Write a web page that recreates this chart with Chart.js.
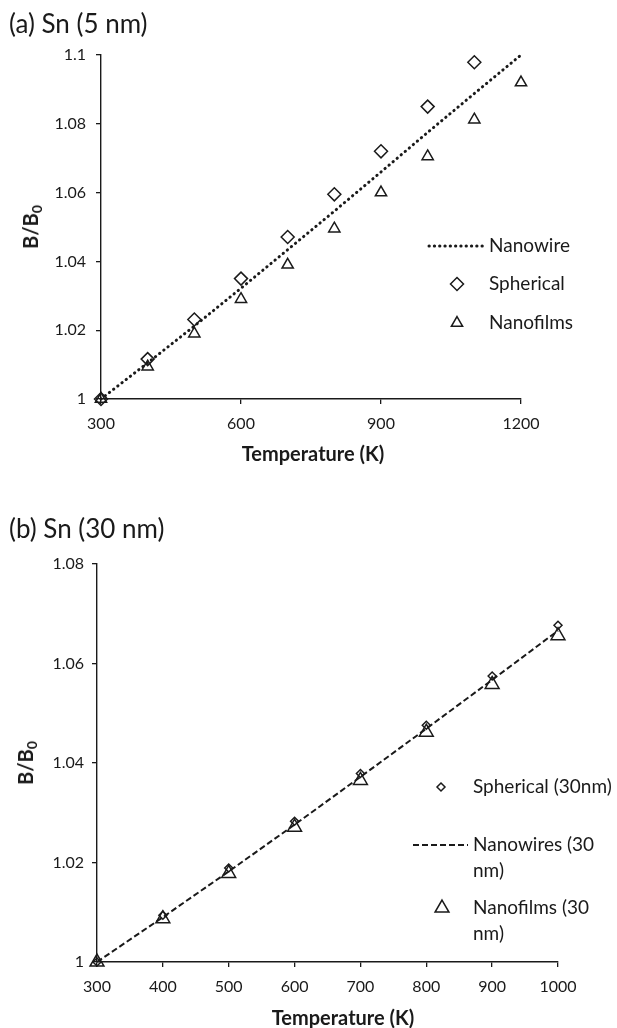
<!DOCTYPE html>
<html>
<head>
<meta charset="utf-8">
<script src="https://cdn.jsdelivr.net/npm/chart.js@4.4.1/dist/chart.umd.min.js"></script>
<style>
  body { margin: 0; background: #fff; font-family: Lato, sans-serif; color: #1a1a1a; }
  #page { position: relative; width: 617px; height: 1028px; overflow: hidden; }
  canvas { position: absolute; left: 0; }
  .txt { position: absolute; white-space: nowrap; transform: translate(-50%, -50%); }
  .panel { font-size: 26px; transform: translate(0, -50%); }
  .axt { font-weight: bold; font-size: 20px; }
  .rot { transform: translate(-50%, -50%) rotate(-90deg); }
  sub { font-size: 14px; vertical-align: -4px; line-height: 0; }
</style>
</head>
<body>
<div id="page">
  <canvas id="chartA" width="617" height="480" style="top:0"></canvas>
  <canvas id="chartB" width="617" height="548" style="top:480px"></canvas>
  <div class="txt panel" style="left:9px; top:23px">(a) Sn (5 nm)</div>
  <div class="txt panel" style="left:9px; top:528px">(b) Sn (30 nm)</div>
  <div class="txt axt" style="left:313px; top:453px">Temperature (K)</div>
  <div class="txt axt" style="left:343px; top:1017px">Temperature (K)</div>
  <div class="txt axt rot" style="left:30px; top:227px">B/B<sub>0</sub></div>
  <div class="txt axt rot" style="left:25px; top:763px">B/B<sub>0</sub></div>
</div>
<script>
// (a) Sn 5 nm
const tempA = [300, 400, 500, 600, 700, 800, 900, 1000, 1100, 1200];
const wireA = [1.0, 1.0105, 1.0212, 1.0322, 1.0434, 1.0546, 1.066, 1.0775, 1.0888, 1.1];
const tempSphA = [300, 400, 500, 600, 700, 800, 900, 1000, 1100];
const sphA = [1.0, 1.0116, 1.0231, 1.035, 1.0471, 1.0595, 1.072, 1.085, 1.0979];
const filmA = [1.0, 1.0094, 1.019, 1.029, 1.039, 1.0495, 1.060, 1.0705, 1.0812, 1.092];
const xTicksA = [300, 600, 900, 1200];
const yTicksA = [1, 1.02, 1.04, 1.06, 1.08, 1.1];

// (b) Sn 30 nm
const tempB = [300, 400, 500, 600, 700, 800, 900, 1000];
const sphB = [1.0, 1.0094, 1.0189, 1.0283, 1.0379, 1.0476, 1.0575, 1.0677];
const wireB = [1.0, 1.009, 1.0182, 1.0276, 1.0372, 1.0469, 1.0567, 1.0666];
const filmB = [1.0, 1.0087, 1.0178, 1.0271, 1.0365, 1.0462, 1.0558, 1.0656];
const xTicksB = [300, 400, 500, 600, 700, 800, 900, 1000];
const yTicksB = [1, 1.02, 1.04, 1.06, 1.08];

const INK = '#1a1a1a';
const pts = (xs, ys) => xs.map((x, i) => ({ x: x, y: ys[i] }));
const fmt = v => String(parseFloat(v.toFixed(3)));

function drawMark(ctx, kind, x, y, r, lw) {
  ctx.save();
  ctx.strokeStyle = INK;
  ctx.lineWidth = lw;
  ctx.beginPath();
  if (kind === 'diamond') {
    ctx.moveTo(x, y - r); ctx.lineTo(x + r, y); ctx.lineTo(x, y + r); ctx.lineTo(x - r, y);
  } else {
    const h = r * 1.5, w = r * Math.sqrt(3) / 2;
    ctx.moveTo(x, y - r); ctx.lineTo(x + w, y + h - r); ctx.lineTo(x - w, y + h - r);
  }
  ctx.closePath();
  ctx.stroke();
  ctx.restore();
}

// legend placed inside the plot like in the original figure
const panelLegend = {
  id: 'panelLegend',
  afterDraw(chart, args, opts) {
    const ctx = chart.ctx;
    ctx.save();
    ctx.font = '19px Lato, sans-serif';
    ctx.fillStyle = INK;
    ctx.textBaseline = 'middle';
    opts.items.forEach(it => {
      if (it.kind === 'line') {
        ctx.save();
        ctx.strokeStyle = INK;
        ctx.lineWidth = it.lw;
        ctx.lineCap = it.cap;
        ctx.setLineDash(it.dash);
        ctx.beginPath();
        ctx.moveTo(it.x0, it.y);
        ctx.lineTo(it.x1, it.y);
        ctx.stroke();
        ctx.restore();
      } else {
        drawMark(ctx, it.kind, it.mx, it.y, it.r, it.lw);
      }
      it.text.forEach((t, i) => ctx.fillText(t, it.tx, it.y + i * 26));
    });
    ctx.restore();
  }
};

function axisX(min, max, step, ticks, h) {
  return {
    type: 'linear', min: min, max: max,
    afterFit: s => { s.height = h; },
    afterBuildTicks: s => { s.ticks = ticks.map(v => ({ value: v })); },
    grid: { display: true, drawOnChartArea: false, drawTicks: true, tickLength: 5, color: INK, lineWidth: 1.3 },
    border: { display: true, color: INK, width: 1.4 },
    ticks: { stepSize: step, padding: 10, color: INK, font: { family: 'Lato', size: 16 }, maxRotation: 0, callback: fmt }
  };
}
function axisY(min, max, ticks, w, pad) {
  return {
    type: 'linear', min: min, max: max,
    afterFit: s => { s.width = w; },
    afterBuildTicks: s => { s.ticks = ticks.map(v => ({ value: v })); },
    grid: { display: true, drawOnChartArea: false, drawTicks: true, tickLength: 5, color: INK, lineWidth: 1.3 },
    border: { display: true, color: INK, width: 1.4 },
    ticks: { padding: pad, color: INK, font: { family: 'Lato', size: 16 }, callback: fmt }
  };
}

const markerSet = (label, data, style, r) => ({
  label: label, data: data, showLine: false, clip: false,
  pointStyle: style, pointRadius: r, pointHoverRadius: r,
  pointBorderColor: INK, pointBackgroundColor: 'rgba(0,0,0,0)', pointBorderWidth: 1.5
});
const lineSet = (label, data, dash, cap, lw) => ({
  label: label, data: data, showLine: true, clip: false, pointRadius: 0,
  borderColor: INK, borderWidth: lw, borderDash: dash, borderCapStyle: cap, tension: 0
});

new Chart(document.getElementById('chartA'), {
  type: 'scatter',
  data: {
    datasets: [
      lineSet('Nanowire', pts(tempA, wireA), [0.3, 5], 'round', 3),
      markerSet('Spherical', pts(tempSphA, sphA), 'rectRot', 6.5),
      markerSet('Nanofilms', pts(tempA, filmA), 'triangle', 6.5)
    ]
  },
  options: {
    responsive: false, animation: false, events: [],
    layout: { padding: { left: 0, right: 96, top: 55, bottom: 0 } },
    scales: { x: axisX(300, 1200, 300, xTicksA, 81), y: axisY(1, 1.1, yTicksA, 101, 10) },
    plugins: {
      legend: { display: false }, tooltip: { enabled: false },
      panelLegend: { items: [
        { kind: 'line', text: ['Nanowire'], x0: 429, x1: 486, y: 246, tx: 489, lw: 3, cap: 'round', dash: [0.3, 5] },
        { kind: 'diamond', text: ['Spherical'], mx: 457, y: 284, tx: 489, r: 6.5, lw: 1.5 },
        { kind: 'triangle', text: ['Nanofilms'], mx: 457, y: 323, tx: 489, r: 6.5, lw: 1.5 }
      ] }
    }
  },
  plugins: [panelLegend]
});

new Chart(document.getElementById('chartB'), {
  type: 'scatter',
  data: {
    datasets: [
      markerSet('Spherical (30nm)', pts(tempB, sphB), 'rectRot', 4),
      lineSet('Nanowires (30 nm)', pts(tempB, wireB), [6, 3], 'butt', 2),
      markerSet('Nanofilms (30 nm)', pts(tempB, filmB), 'triangle', 8)
    ]
  },
  options: {
    responsive: false, animation: false, events: [],
    layout: { padding: { left: 0, right: 59, top: 84, bottom: 0 } },
    scales: { x: axisX(300, 1000, 100, xTicksB, 66), y: axisY(1, 1.08, yTicksB, 97, 8) },
    plugins: {
      legend: { display: false }, tooltip: { enabled: false },
      panelLegend: { items: [
        { kind: 'diamond', text: ['Spherical (30nm)'], mx: 441, y: 307, tx: 473, r: 4, lw: 1.5 },
        { kind: 'line', text: ['Nanowires (30', 'nm)'], x0: 413, x1: 468, y: 365, tx: 473, lw: 2, cap: 'butt', dash: [6, 3] },
        { kind: 'triangle', text: ['Nanofilms (30', 'nm)'], mx: 442, y: 428, tx: 473, r: 8, lw: 1.5 }
      ] }
    }
  },
  plugins: [panelLegend]
});
</script>
</body>
</html>
